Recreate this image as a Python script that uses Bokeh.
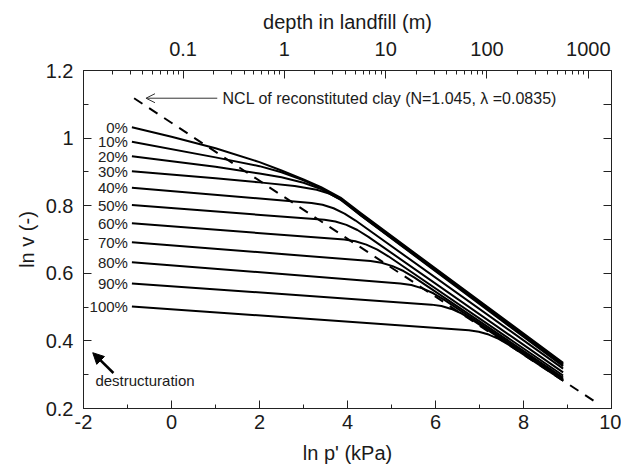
import numpy as np
from bokeh.plotting import figure
from bokeh.models import (LinearAxis, FixedTicker, CustomJSTickFormatter, Range1d,
                          Arrow, OpenHead, NormalHead, Label)
from bokeh.embed import file_html
from bokeh.resources import INLINE
from bokeh.core.properties import value

FONT = "Liberation Sans"

# ---------------- data ----------------
destructuration_labels = ["0%", "10%", "20%", "30%", "40%", "50%",
                          "60%", "70%", "80%", "90%", "100%"]

lnp_0 = [-0.9, 0.0, 1.0, 2.0, 2.5, 3.0, 3.4, 3.84, 4.3, 8.9]
lnv_0 = [1.032, 1.004, 0.970, 0.929, 0.904, 0.878, 0.855, 0.824, 0.778, 0.335]
lnp_10 = [-0.9, 1.0, 2.0, 2.5, 3.0, 3.4, 3.84, 4.3, 8.9]
lnv_10 = [0.989, 0.943, 0.917, 0.899, 0.875, 0.852, 0.821, 0.775, 0.332]
lnp_20 = [-0.9, 1.0, 2.0, 2.5, 3.0, 3.4, 3.84, 4.3, 8.9]
lnv_20 = [0.946, 0.915, 0.895, 0.884, 0.868, 0.849, 0.818, 0.772, 0.329]
lnp_30 = [-0.9, 1.0, 2.0, 2.8, 3.3, 3.6, 3.9, 4.3, 8.9]
lnv_30 = [0.902, 0.881, 0.869, 0.858, 0.847, 0.835, 0.814, 0.771, 0.325]
lnp_40 = [-0.9, 3.183, 3.433, 3.683, 3.933, 4.183, 8.9]
lnv_40 = [0.853, 0.8081, 0.8028, 0.7924, 0.7768, 0.7561, 0.3179]
lnp_50 = [-0.9, 3.475, 3.725, 3.975, 4.225, 4.475, 8.9]
lnv_50 = [0.802, 0.7583, 0.7533, 0.7432, 0.7281, 0.7079, 0.3068]
lnp_60 = [-0.9, 3.928, 4.178, 4.428, 4.678, 4.928, 8.9]
lnv_60 = [0.748, 0.6997, 0.6947, 0.6849, 0.6700, 0.6503, 0.2977]
lnp_70 = [-0.9, 4.524, 4.774, 5.024, 5.274, 5.524, 8.9]
lnv_70 = [0.692, 0.6362, 0.6312, 0.6213, 0.6067, 0.5872, 0.2916]
lnp_80 = [-0.9, 5.201, 5.451, 5.701, 5.951, 6.201, 8.9]
lnv_80 = [0.633, 0.5701, 0.5652, 0.5554, 0.5409, 0.5216, 0.2875]
lnp_90 = [-0.9, 5.91, 6.135, 6.36, 6.585, 6.81, 8.9]
lnv_90 = [0.570, 0.5073, 0.5031, 0.4946, 0.4817, 0.4645, 0.2845]
lnp_100 = [-0.9, 6.759, 6.984, 7.209, 7.434, 7.659, 8.9]
lnv_100 = [0.502, 0.4315, 0.4273, 0.4188, 0.4060, 0.3888, 0.2825]

ncl_lnp = [-0.85, 9.72]
ncl_lnv = [1.118, 0.212]

x_major = [-2, 0, 2, 4, 6, 8, 10]
x_minor = [-1, 1, 3, 5, 7, 9]
y_major = [0.2, 0.4, 0.6, 0.8, 1.0, 1.2]
y_minor = [0.3, 0.5, 0.7, 0.9, 1.1]
y_right = [0.2, 0.3, 0.4, 0.5, 0.6, 0.7, 0.8, 0.9, 1.0, 1.1, 1.2]
depth_major = [0.1, 1, 10, 100, 1000]
unit_weight = 13.0  # kN/m3, relates depth to p'

all_lnp = [lnp_0, lnp_10, lnp_20, lnp_30, lnp_40, lnp_50,
           lnp_60, lnp_70, lnp_80, lnp_90, lnp_100]
all_lnv = [lnv_0, lnv_10, lnv_20, lnv_30, lnv_40, lnv_50,
           lnv_60, lnv_70, lnv_80, lnv_90, lnv_100]

# ---------------- figure ----------------
p = figure(width=621, height=470, x_range=Range1d(-2, 10), y_range=Range1d(0.2, 1.2),
           output_backend="svg", toolbar_location=None,
           x_axis_location=None, y_axis_location=None,
           min_border_left=83, min_border_right=10,
           min_border_top=70, min_border_bottom=62)
p.outline_line_color = "#222222"
p.background_fill_color = "white"
p.border_fill_color = "white"
p.grid.visible = False


def style(ax, major_in, minor_in):
    ax.major_tick_in = major_in
    ax.major_tick_out = 0
    ax.minor_tick_in = minor_in
    ax.minor_tick_out = 0
    ax.axis_line_color = "#222222"
    ax.major_tick_line_color = "#222222"
    ax.minor_tick_line_color = "#222222"
    ax.major_label_text_font = FONT
    ax.major_label_text_font_size = "20px"
    ax.major_label_text_color = "#1a1a1a"
    ax.axis_label_text_font = FONT
    ax.axis_label_text_font_size = "20px"
    ax.axis_label_text_font_style = "normal"
    ax.axis_label_text_color = "#1a1a1a"


bottom = LinearAxis(axis_label="ln p' (kPa)",
                    ticker=FixedTicker(ticks=x_major, minor_ticks=x_minor),
                    formatter=CustomJSTickFormatter(code="return tick.toFixed(0);"))
style(bottom, 8, 4)
bottom.major_label_standoff = 6
bottom.axis_label_standoff = 10
p.add_layout(bottom, "below")

left = LinearAxis(axis_label="ln v (-)",
                  ticker=FixedTicker(ticks=y_major, minor_ticks=y_minor),
                  formatter=CustomJSTickFormatter(code="return String(Math.round(tick*10)/10);"))
style(left, 8, 5)
left.major_label_standoff = 10
left.axis_label_standoff = 5
p.add_layout(left, "left")

lg = float(np.log(unit_weight))
top_major = [float(np.log(d)) + lg for d in depth_major]
top_minor = []
for n in range(-2, 4):
    for k in range(2, 10):
        pos = float(np.log(k * 10.0 ** n)) + lg
        if -2 <= pos <= 10:
            top_minor.append(pos)
top = LinearAxis(axis_label="depth in landfill (m)",
                 ticker=FixedTicker(ticks=top_major, minor_ticks=top_minor),
                 formatter=CustomJSTickFormatter(args=dict(g=unit_weight),
                                                 code="const d = Math.exp(tick)/g; return d < 1 ? d.toFixed(1) : d.toFixed(0);"))
style(top, 8, 4)
top.major_label_standoff = 15
top.axis_label_standoff = 6
p.add_layout(top, "above")

right = LinearAxis(ticker=FixedTicker(ticks=y_right, minor_ticks=[]),
                   formatter=CustomJSTickFormatter(code="return '';"))
style(right, 8, 0)
right.major_label_standoff = 0
p.add_layout(right, "right")

# ---------------- marks ----------------
p.line(ncl_lnp, ncl_lnv, line_color="black", line_width=2, line_dash="10 8")

for xs, vs in zip(all_lnp, all_lnv):
    p.line(xs, vs, line_color="black", line_width=2, line_join="round")

p.text(x=[xs[0] for xs in all_lnp], y=[vs[0] for vs in all_lnv],
       text=destructuration_labels, text_align="right", text_baseline="middle",
       x_offset=-4, text_font=value(FONT), text_font_size="15px", text_color="#222222")

p.add_layout(Arrow(end=OpenHead(size=9, line_width=1, line_color="#333333"),
                   x_start=1.04, y_start=1.118, x_end=-0.58, y_end=1.118,
                   line_width=1, line_color="#333333"))
p.add_layout(Label(x=1.16, y=1.118, text="NCL of reconstituted clay (N=1.045, \u03bb =0.0835)",
                   text_baseline="middle", text_font=FONT, text_font_size="16px",
                   text_color="#1a1a1a"))

p.add_layout(Arrow(end=NormalHead(size=11, fill_color="black", line_color="black"),
                   x_start=-1.32, y_start=0.305, x_end=-1.79, y_end=0.365,
                   line_width=2.5, line_color="black"))
p.add_layout(Label(x=-1.73, y=0.284, text="destructuration",
                   text_baseline="middle", text_font=FONT, text_font_size="15px",
                   text_color="#1a1a1a"))

open("out.html", "w").write(file_html(p, INLINE))
